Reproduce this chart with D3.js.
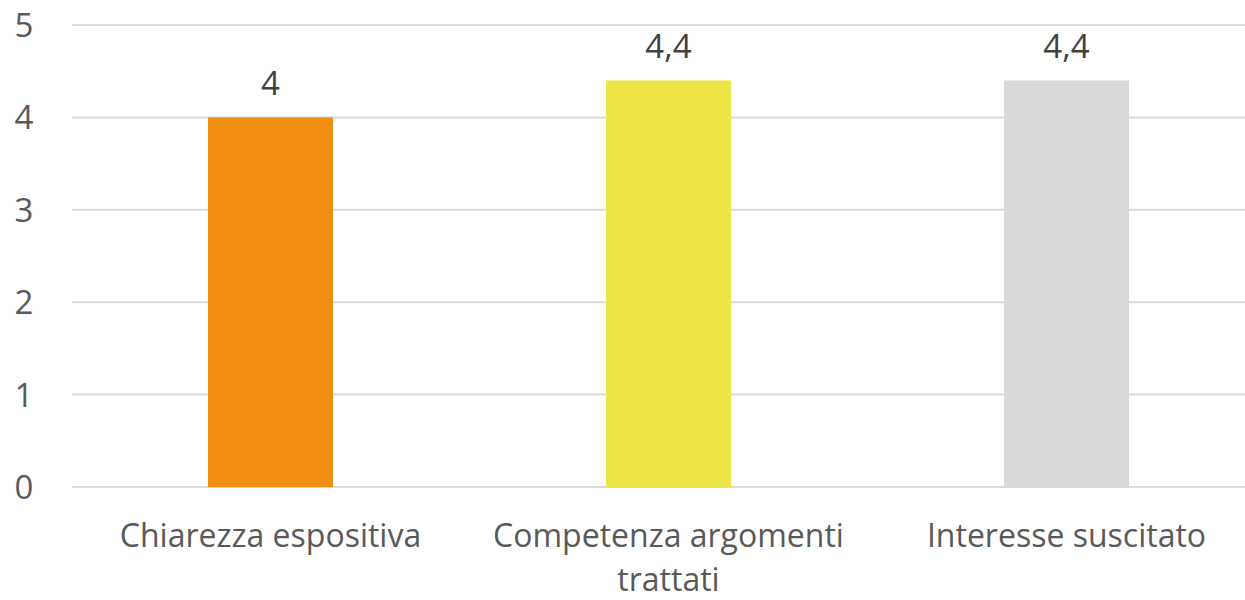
<!DOCTYPE html>
<html><head><meta charset="utf-8">
<script src="https://cdn.jsdelivr.net/npm/d3@7"></script>
<style>body{margin:0;background:#fff}text{font-family:"Open Sans",sans-serif}</style>
</head><body><svg id="c" width="1245" height="600"></svg>
<script>
const categories = ["Chiarezza espositiva", "Competenza argomenti trattati", "Interesse suscitato"];
const values = [4, 4.4, 4.4];
const colors = ["#F08E13", "#EDE445", "#D9D9D9"];
const yTicks = [0, 1, 2, 3, 4, 5];

const svg = d3.select("#c");
const x = d3.scaleBand().domain(categories).range([71.5, 1265.5]).paddingInner(0).paddingOuter(0);
const y = d3.scaleLinear().domain([0, 5]).range([487, 25]);
const bw = 125;

svg.append("g").selectAll("line").data(yTicks).join("line")
  .attr("x1", 72).attr("x2", 1245)
  .attr("y1", d => y(d)).attr("y2", d => y(d))
  .attr("stroke", "#D9D9D9").attr("stroke-width", 2);

svg.append("g").selectAll("text").data(yTicks).join("text")
  .attr("x", 24).attr("y", d => y(d) + 12)
  .attr("text-anchor", "middle").attr("font-size", 33).attr("fill", "#595959")
  .text(d => d);

svg.append("g").selectAll("rect").data(categories).join("rect")
  .attr("x", d => x(d) + x.bandwidth()/2 - bw/2).attr("width", bw)
  .attr("y", (d,i) => y(values[i])).attr("height", (d,i) => y(0) - y(values[i]))
  .attr("fill", (d,i) => colors[i]);

svg.append("g").selectAll("text").data(categories).join("text")
  .attr("x", d => x(d) + x.bandwidth()/2).attr("y", (d,i) => y(values[i]) - 22)
  .attr("text-anchor", "middle").attr("font-size", 33).attr("fill", "#404040")
  .text((d,i) => String(values[i]).replace(".", ","));

const lbl = svg.append("g").selectAll("text").data(categories).join("text")
  .attr("x", d => x(d) + x.bandwidth()/2).attr("y", 547)
  .attr("text-anchor", "middle").attr("font-size", 32).attr("fill", "#595959");
lbl.each(function(d) {
  const t = d3.select(this);
  const words = d.split(" ");
  let lines = [], cur = "";
  const maxW = x.bandwidth() - 6;
  const tmp = t.append("tspan");
  words.forEach(w => {
    const test = cur ? cur + " " + w : w;
    tmp.text(test);
    if (tmp.node().getComputedTextLength() > maxW && cur) { lines.push(cur); cur = w; } else cur = test;
  });
  lines.push(cur);
  tmp.remove();
  lines.forEach((l, i) => t.append("tspan").attr("x", x(d) + x.bandwidth()/2).attr("dy", i ? 44 : 0).text(l));
});
</script></body></html>
